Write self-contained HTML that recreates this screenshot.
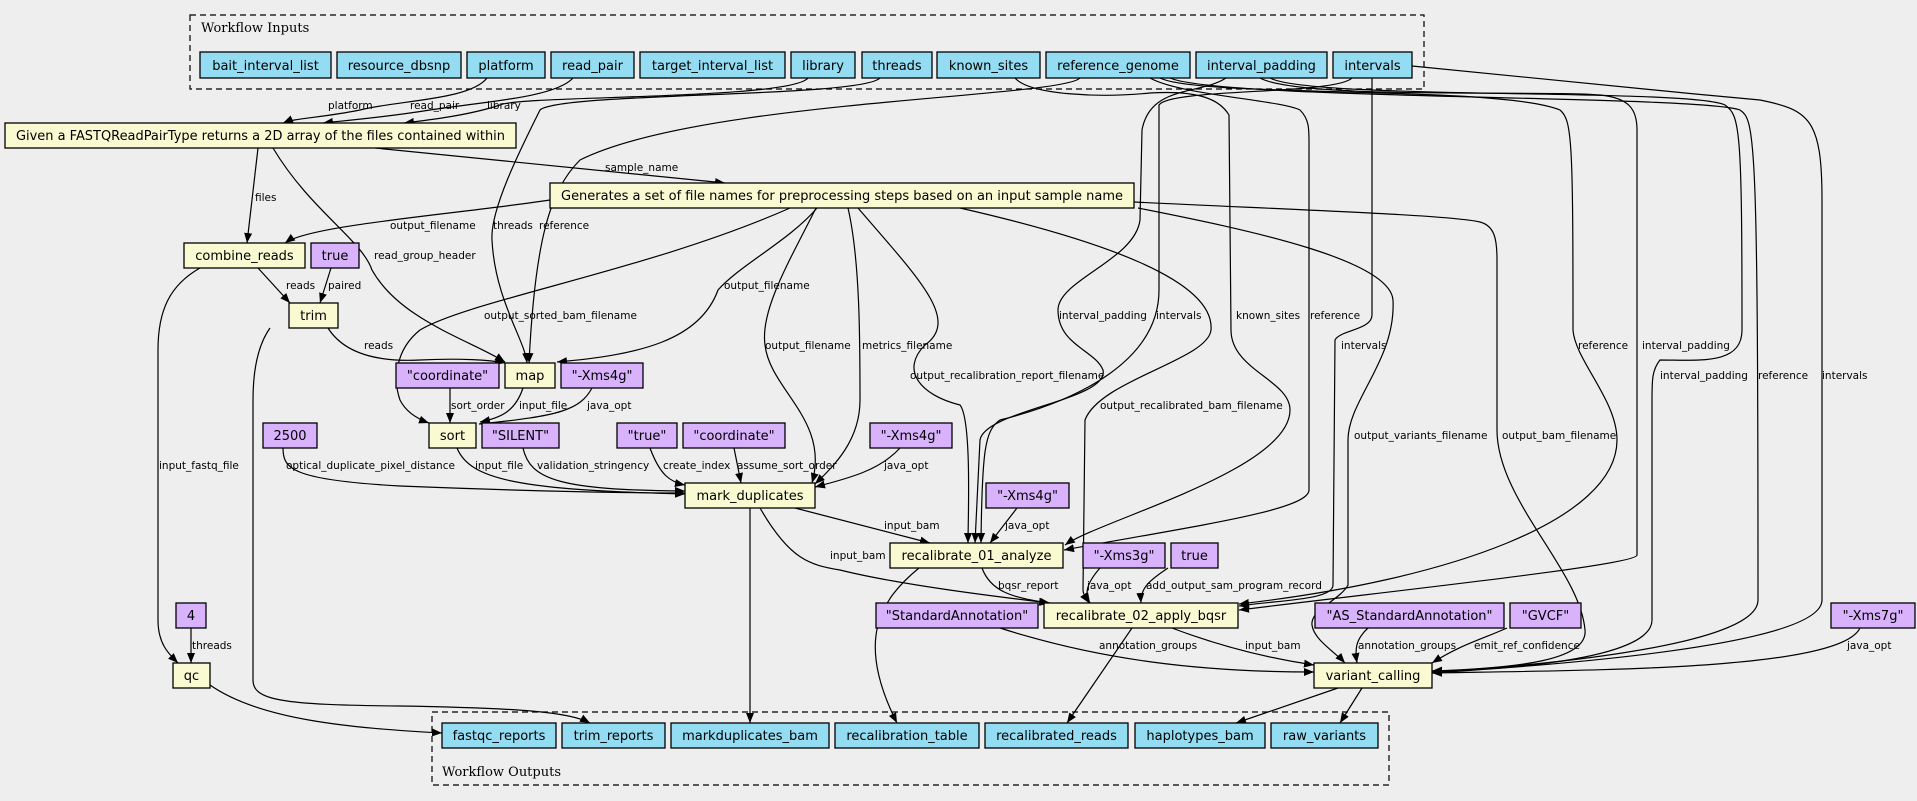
<!DOCTYPE html>
<html><head><meta charset="utf-8">
<style>
html,body{margin:0;padding:0;background:#eeeeee;}
svg{display:block;}
.n{stroke:#000;stroke-width:1.3;}
.in{fill:#94dcf2;}
.st{fill:#fafad2;}
.c{fill:#d8b2fb;}
.nt{font-family:"DejaVu Sans","Liberation Sans",sans-serif;font-size:13px;text-anchor:middle;}
.e{fill:none;stroke:#000;stroke-width:1.2;marker-end:url(#ah);}
.el{font-family:"DejaVu Sans","Liberation Sans",sans-serif;font-size:10.5px;}
.cl{font-family:"DejaVu Serif","Liberation Serif",serif;font-size:13px;}
</style></head><body>
<svg width="1917" height="801" viewBox="0 0 1917 801" xmlns="http://www.w3.org/2000/svg">
<defs>
<marker id="ah" markerUnits="userSpaceOnUse" markerWidth="10" markerHeight="8" refX="10" refY="4" orient="auto">
<path d="M0,0 L10,4 L0,8 z" fill="#000"/>
</marker>
</defs>
<rect width="1917" height="801" fill="#eeeeee"/>
<rect x="190" y="15" width="1234" height="74" fill="none" stroke="#000" stroke-width="1.2" stroke-dasharray="6,4"/>
<text class="cl" x="201" y="32">Workflow Inputs</text>
<rect x="432" y="712" width="957" height="73" fill="none" stroke="#000" stroke-width="1.2" stroke-dasharray="6,4"/>
<text class="cl" x="442" y="776">Workflow Outputs</text>

<g>
<path class="e" d="M487,78 C470,100 400,100 360,110 C320,118 295,118 283,123"/>
<path class="e" d="M573,78 C555,98 480,102 430,110 C380,118 340,121 323,123"/>
<path class="e" d="M808,78 C790,100 520,95 500,105 C470,115 430,120 404,123"/>
<path class="e" d="M375,148 L725,183"/>
<path class="e" d="M258,148 L247,243"/>
<path class="e" d="M273,148 C310,210 362,240 372,270 C400,320 470,340 505,362"/>
<path class="e" d="M550,200 C450,215 310,225 285,243"/>
<path class="e" d="M258,268 L290,303"/>
<path class="e" d="M331,268 L320,303"/>
<path class="e" d="M200,268 C170,285 158,310 158,350 L158,620 C158,645 170,655 178,663"/>
<path class="e" d="M270,328 C258,345 253,370 253,400 L253,680 C253,700 280,705 400,706 C520,708 570,712 590,723"/>
<path class="e" d="M328,328 C345,355 380,362 420,360 C460,358 490,360 505,363"/>
<path class="e" d="M191,628 L191,663"/>
<path class="e" d="M210,685 C260,720 350,728 442,733"/>
<path class="e" d="M450,388 L450,423"/>
<path class="e" d="M523,388 C515,412 500,418 480,422"/>
<path class="e" d="M592,388 C580,410 560,416 479,424"/>
<path class="e" d="M790,208 C650,270 470,300 420,330 C395,350 393,380 400,400 C405,410 415,418 429,423"/>
<path class="e" d="M817,208 C790,240 740,265 718,290 C700,340 640,355 557,362"/>
<path class="e" d="M283,448 C283,468 290,480 400,486 C550,492 640,493 685,493"/>
<path class="e" d="M457,448 C470,480 520,490 685,494"/>
<path class="e" d="M523,448 C530,480 560,490 685,491"/>
<path class="e" d="M650,448 C660,475 670,482 685,485"/>
<path class="e" d="M734,448 L741,483"/>
<path class="e" d="M900,448 C880,470 850,478 815,487"/>
<path class="e" d="M816,208 C790,260 760,310 765,345 C770,390 830,420 812,483"/>
<path class="e" d="M848,208 C860,260 860,340 860,400 C860,440 835,465 815,484"/>
<path class="e" d="M858,208 C920,280 960,320 925,345 C900,370 920,395 960,405 C972,420 968,520 968,543"/>
<path class="e" d="M795,508 L930,543"/>
<path class="e" d="M760,508 C790,560 810,565 840,570 C900,585 1000,597 1049,603"/>
<path class="e" d="M750,508 L750,723"/>
<path class="e" d="M1017,508 L990,543"/>
<path class="e" d="M982,568 C990,590 1010,598 1050,603"/>
<path class="e" d="M919,568 C880,600 855,640 897,723"/>
<path class="e" d="M1100,568 C1085,585 1085,595 1090,603"/>
<path class="e" d="M1168,568 C1150,580 1140,588 1141,603"/>
<path class="e" d="M1132,628 L1067,723"/>
<path class="e" d="M1000,628 C1100,660 1200,672 1314,672"/>
<path class="e" d="M1172,628 C1230,650 1280,660 1314,665"/>
<path class="e" d="M1368,628 C1355,640 1355,650 1357,663"/>
<path class="e" d="M1507,628 C1480,640 1460,645 1432,663"/>
<path class="e" d="M1860,628 C1840,670 1600,670 1432,673"/>
<path class="e" d="M1338,688 L1236,723"/>
<path class="e" d="M1362,688 L1340,723"/>
<path class="e" d="M880,78 C860,98 560,92 540,110 C520,150 490,210 492,240 C495,300 525,340 527,363"/>
<path class="e" d="M1080,78 C1060,98 700,100 580,160 C550,190 535,240 529,363"/>
<path class="e" d="M1226,78 C1200,95 1150,85 1142,130 L1140,220 C1135,260 1058,280 1058,310 C1058,345 1095,350 1103,370 C1110,400 985,410 980,440 L975,543"/>
<path class="e" d="M1352,78 C1335,95 1170,88 1159,105 L1159,290 C1159,360 1080,400 1000,420 C985,430 982,450 981,543"/>
<path class="e" d="M1015,78 C1030,95 1100,98 1150,93 C1200,90 1220,100 1229,115 L1231,330 C1231,370 1290,380 1290,410 C1290,470 1100,520 1065,545"/>
<path class="e" d="M1150,78 C1180,95 1280,100 1300,110 C1310,120 1309,130 1309,150 L1309,490 C1309,510 1200,525 1064,550"/>
<path class="e" d="M960,208 C1100,240 1215,280 1211,330 C1208,360 1100,380 1085,420 L1083,590 C1083,595 1087,600 1089,603"/>
<path class="e" d="M1372,78 L1372,315 C1372,330 1340,330 1335,340 L1333,585 C1333,600 1280,600 1239,606"/>
<path class="e" d="M1138,208 C1250,230 1390,260 1393,300 C1396,360 1348,400 1348,440 L1348,585 C1340,600 1310,610 1312,625 C1314,640 1335,652 1345,663"/>
<path class="e" d="M1134,202 C1300,210 1450,215 1480,222 C1495,226 1497,240 1497,260 L1497,430 C1497,500 1580,570 1585,630 C1588,660 1520,668 1432,671"/>
<path class="e" d="M1160,78 C1200,98 1500,85 1560,110 C1572,120 1573,140 1573,330 C1575,360 1617,400 1617,440 C1617,520 1450,580 1239,604"/>
<path class="e" d="M1260,78 C1300,100 1550,90 1600,95 C1630,98 1637,110 1637,130 L1637,555 C1637,565 1400,590 1239,610"/>
<path class="e" d="M1270,78 C1310,100 1690,88 1725,105 C1740,115 1742,130 1742,330 C1742,365 1700,360 1660,360 C1652,370 1652,380 1652,400 L1652,620 C1652,660 1500,670 1432,671"/>
<path class="e" d="M1170,78 C1220,100 1700,95 1740,110 C1755,120 1758,135 1758,600 C1758,650 1500,668 1432,672"/>
<path class="e" d="M1412,66 C1550,80 1650,90 1760,100 C1810,110 1822,120 1822,200 L1822,600 C1822,650 1500,668 1432,673"/>
</g>

<g class="el">
<text x="328" y="109">platform</text>
<text x="410" y="109">read_pair</text>
<text x="487" y="109">library</text>
<text x="605" y="171">sample_name</text>
<text x="255" y="201">files</text>
<text x="374" y="259">read_group_header</text>
<text x="390" y="229">output_filename</text>
<text x="493" y="229">threads</text>
<text x="539" y="229">reference</text>
<text x="286" y="289">reads</text>
<text x="328" y="289">paired</text>
<text x="159" y="469">input_fastq_file</text>
<text x="364" y="349">reads</text>
<text x="192" y="649">threads</text>
<text x="451" y="409">sort_order</text>
<text x="519" y="409">input_file</text>
<text x="587" y="409">java_opt</text>
<text x="484" y="319">output_sorted_bam_filename</text>
<text x="724" y="289">output_filename</text>
<text x="286" y="469">optical_duplicate_pixel_distance</text>
<text x="475" y="469">input_file</text>
<text x="537" y="469">validation_stringency</text>
<text x="663" y="469">create_index</text>
<text x="737" y="469">assume_sort_order</text>
<text x="884" y="469">java_opt</text>
<text x="765" y="349">output_filename</text>
<text x="862" y="349">metrics_filename</text>
<text x="910" y="379">output_recalibration_report_filename</text>
<text x="884" y="529">input_bam</text>
<text x="830" y="559">input_bam</text>
<text x="1005" y="529">java_opt</text>
<text x="998" y="589">bqsr_report</text>
<text x="1087" y="589">java_opt</text>
<text x="1146" y="589">add_output_sam_program_record</text>
<text x="1099" y="649">annotation_groups</text>
<text x="1245" y="649">input_bam</text>
<text x="1358" y="649">annotation_groups</text>
<text x="1474" y="649">emit_ref_confidence</text>
<text x="1847" y="649">java_opt</text>
<text x="1059" y="319">interval_padding</text>
<text x="1156" y="319">intervals</text>
<text x="1236" y="319">known_sites</text>
<text x="1310" y="319">reference</text>
<text x="1100" y="409">output_recalibrated_bam_filename</text>
<text x="1341" y="349">intervals</text>
<text x="1354" y="439">output_variants_filename</text>
<text x="1502" y="439">output_bam_filename</text>
<text x="1578" y="349">reference</text>
<text x="1642" y="349">interval_padding</text>
<text x="1660" y="379">interval_padding</text>
<text x="1758" y="379">reference</text>
<text x="1822" y="379">intervals</text>
</g>

<g>
<rect class="n in" x="200" y="52" width="131" height="26"/><text class="nt" x="265.5" y="70">bait_interval_list</text>
<rect class="n in" x="337" y="52" width="124" height="26"/><text class="nt" x="399" y="70">resource_dbsnp</text>
<rect class="n in" x="467" y="52" width="78" height="26"/><text class="nt" x="506" y="70">platform</text>
<rect class="n in" x="551" y="52" width="83" height="26"/><text class="nt" x="592.5" y="70">read_pair</text>
<rect class="n in" x="640" y="52" width="145" height="26"/><text class="nt" x="712.5" y="70">target_interval_list</text>
<rect class="n in" x="791" y="52" width="64" height="26"/><text class="nt" x="823" y="70">library</text>
<rect class="n in" x="862" y="52" width="70" height="26"/><text class="nt" x="897" y="70">threads</text>
<rect class="n in" x="937" y="52" width="103" height="26"/><text class="nt" x="988.5" y="70">known_sites</text>
<rect class="n in" x="1046" y="52" width="144" height="26"/><text class="nt" x="1118" y="70">reference_genome</text>
<rect class="n in" x="1196" y="52" width="131" height="26"/><text class="nt" x="1261.5" y="70">interval_padding</text>
<rect class="n in" x="1333" y="52" width="79" height="26"/><text class="nt" x="1372.5" y="70">intervals</text>

<rect class="n st" x="5" y="123" width="511" height="25"/><text class="nt" x="260.5" y="140" textLength="489" lengthAdjust="spacingAndGlyphs">Given a FASTQReadPairType returns a 2D array of the files contained within</text>
<rect class="n st" x="550" y="183" width="584" height="25"/><text class="nt" x="842" y="200" textLength="562" lengthAdjust="spacingAndGlyphs">Generates a set of file names for preprocessing steps based on an input sample name</text>
<rect class="n st" x="184" y="243" width="121" height="25"/><text class="nt" x="244.5" y="260">combine_reads</text>
<rect class="n c" x="311" y="243" width="48" height="25"/><text class="nt" x="335" y="260">true</text>
<rect class="n st" x="289" y="303" width="49" height="25"/><text class="nt" x="313.5" y="320">trim</text>
<rect class="n c" x="396" y="363" width="103" height="25"/><text class="nt" x="447.5" y="380">"coordinate"</text>
<rect class="n st" x="505" y="363" width="50" height="25"/><text class="nt" x="530" y="380">map</text>
<rect class="n c" x="561" y="363" width="82" height="25"/><text class="nt" x="602" y="380">"-Xms4g"</text>
<rect class="n c" x="263" y="423" width="54" height="25"/><text class="nt" x="290" y="440">2500</text>
<rect class="n st" x="429" y="423" width="47" height="25"/><text class="nt" x="452.5" y="440">sort</text>
<rect class="n c" x="482" y="423" width="77" height="25"/><text class="nt" x="520.5" y="440">"SILENT"</text>
<rect class="n c" x="617" y="423" width="60" height="25"/><text class="nt" x="647" y="440">"true"</text>
<rect class="n c" x="683" y="423" width="102" height="25"/><text class="nt" x="734" y="440">"coordinate"</text>
<rect class="n c" x="870" y="423" width="82" height="25"/><text class="nt" x="911" y="440">"-Xms4g"</text>
<rect class="n st" x="685" y="483" width="130" height="25"/><text class="nt" x="750" y="500">mark_duplicates</text>
<rect class="n c" x="986" y="483" width="83" height="25"/><text class="nt" x="1027.5" y="500">"-Xms4g"</text>
<rect class="n st" x="890" y="543" width="173" height="25"/><text class="nt" x="976.5" y="560">recalibrate_01_analyze</text>
<rect class="n c" x="1083" y="543" width="82" height="25"/><text class="nt" x="1124" y="560">"-Xms3g"</text>
<rect class="n c" x="1171" y="543" width="47" height="25"/><text class="nt" x="1194.5" y="560">true</text>
<rect class="n c" x="176" y="603" width="30" height="25"/><text class="nt" x="191" y="620">4</text>
<rect class="n c" x="876" y="603" width="162" height="25"/><text class="nt" x="957" y="620">"StandardAnnotation"</text>
<rect class="n st" x="1044" y="603" width="194" height="25"/><text class="nt" x="1141" y="620">recalibrate_02_apply_bqsr</text>
<rect class="n c" x="1315" y="603" width="189" height="25"/><text class="nt" x="1409.5" y="620">"AS_StandardAnnotation"</text>
<rect class="n c" x="1510" y="603" width="71" height="25"/><text class="nt" x="1545.5" y="620">"GVCF"</text>
<rect class="n c" x="1831" y="603" width="84" height="25"/><text class="nt" x="1873" y="620">"-Xms7g"</text>
<rect class="n st" x="173" y="663" width="37" height="25"/><text class="nt" x="191.5" y="680">qc</text>
<rect class="n st" x="1314" y="663" width="118" height="25"/><text class="nt" x="1373" y="680">variant_calling</text>

<rect class="n in" x="442" y="723" width="114" height="25"/><text class="nt" x="499" y="740">fastqc_reports</text>
<rect class="n in" x="562" y="723" width="103" height="25"/><text class="nt" x="613.5" y="740">trim_reports</text>
<rect class="n in" x="671" y="723" width="158" height="25"/><text class="nt" x="750" y="740">markduplicates_bam</text>
<rect class="n in" x="835" y="723" width="144" height="25"/><text class="nt" x="907" y="740">recalibration_table</text>
<rect class="n in" x="985" y="723" width="143" height="25"/><text class="nt" x="1056.5" y="740">recalibrated_reads</text>
<rect class="n in" x="1135" y="723" width="130" height="25"/><text class="nt" x="1200" y="740">haplotypes_bam</text>
<rect class="n in" x="1271" y="723" width="107" height="25"/><text class="nt" x="1324.5" y="740">raw_variants</text>
</g>
</svg>
</body></html>
